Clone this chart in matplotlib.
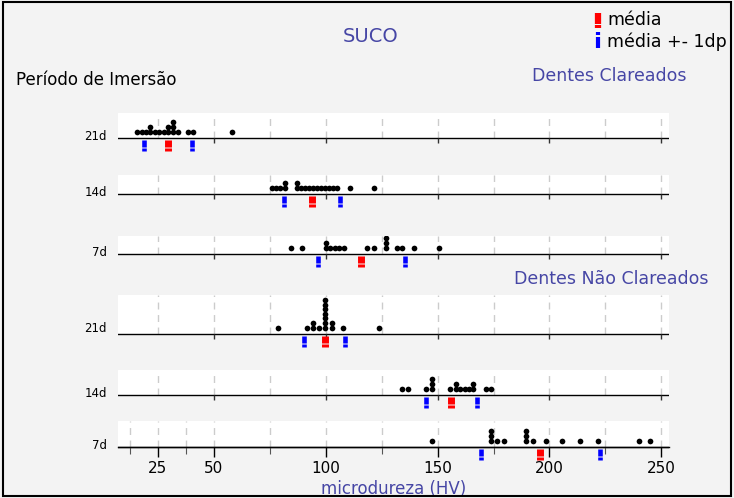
import matplotlib.pyplot as plt
from matplotlib.lines import Line2D
from matplotlib.patches import Rectangle
from collections import Counter

# microdureza (HV)
clar_21d = [15.8, 17.8, 19.6, 21.5, 21.5, 23.8, 25.7, 27.9, 29.7, 29.7, 31.9, 31.9, 31.9,
            33.9, 38.6, 40.6, 58.0]
clar_14d = [76.0, 77.8, 79.7, 81.7, 81.7, 87.1, 87.1, 88.9, 90.8, 92.6, 94.4, 96.2, 98.0,
            99.8, 101.6, 103.3, 105.1, 110.7, 121.4]
clar_7d = [84.3, 89.5, 100.3, 100.3, 102.1, 104.1, 106.1, 108.1, 118.4, 121.5, 126.9, 126.9,
           126.9, 131.8, 134.0, 139.4, 150.5]
nclar_21d = [78.5, 91.5, 94.4, 94.4, 97.0, 99.6, 99.6, 99.6, 99.6, 99.6, 99.6, 99.6,
             102.6, 102.6, 107.8, 123.8]
nclar_14d = [133.9, 136.8, 144.7, 147.3, 147.3, 147.3, 155.4, 158.1, 158.1, 160.2, 162.1,
             164.1, 165.8, 165.8, 171.5, 173.8]
nclar_7d = [147.7, 173.8, 173.8, 173.8, 176.6, 179.7, 189.7, 189.7, 189.7, 192.6, 198.3,
            205.8, 213.8, 221.7, 240.0, 245.0]

series = [clar_21d, clar_14d, clar_7d, nclar_21d, nclar_14d, nclar_7d]
rotulos = ['21d', '14d', '7d', '21d', '14d', '7d']
media = [29.6, 93.7, 115.9, 99.5, 156.0, 195.9]
dp = [10.6, 12.5, 19.5, 9.3, 11.4, 26.6]

W, H = 734, 498
fig = plt.figure(figsize=(W / 100, H / 100), dpi=100, facecolor='#f3f3f3')
azul = '#4646a5'

# (topo da faixa branca, linha de base) em pixels
faixas = [(113, 138), (175, 194), (236, 254), (295, 334), (370, 395), (421, 447)]
x0, x1 = 118, 669
xlim = (7.2, 253.4)
abaixo = 16

for i, vals in enumerate(series):
    top, base = faixas[i]
    h = base - top
    ax = fig.add_axes([x0 / W, 1 - (base + abaixo) / H, (x1 - x0) / W, (h + abaixo) / H])
    ax.set_xlim(*xlim)
    ax.set_ylim(-abaixo, h)
    ax.axis('off')
    ax.axhspan(0, h, color='white', zorder=0)
    grade = [25, 50, 75, 100, 125, 150, 175, 200, 225, 250]
    if i == 5:
        grade = [12.5, 37.5] + grade
    ax.vlines(grade, 0, h, colors='#cccccc', linestyles=(0, (5, 4)), lw=1, zorder=1)
    ax.axhline(0, color='black', lw=1, zorder=2)
    if i < 5:
        ax.vlines([50, 100, 150, 200, 250], -5, 0, colors='#333333', lw=1, zorder=2)
    # pontos empilhados
    cont = Counter()
    xs, ys = [], []
    for v in vals:
        xs.append(v)
        ys.append(6.5 + 4.6 * cont[v])
        cont[v] += 1
    ax.plot(xs, ys, 'o', color='black', ms=4.1, mew=0, zorder=3)
    # média e média +- 1dp
    for x, cor, lw in [(media[i], 'red', 5.0), (media[i] - dp[i], 'blue', 3.3),
                       (media[i] + dp[i], 'blue', 3.3)]:
        ax.plot([x, x], [-1.5, -8.5], color=cor, lw=lw, solid_capstyle='butt', clip_on=False)
        ax.plot([x, x], [-10.0, -13.0], color=cor, lw=lw, solid_capstyle='butt', clip_on=False)
    dy = 6 if i == 3 else 2
    fig.text(107 / W, 1 - (base - dy) / H, rotulos[i], ha='right', va='center', fontsize=8.5)

# eixo x inferior
top, base = faixas[5]
axx = fig.add_axes([x0 / W, 1 - base / H, (x1 - x0) / W, 0.001])
axx.set_xlim(*xlim)
axx.patch.set_visible(False)
for s in ['top', 'left', 'right']:
    axx.spines[s].set_visible(False)
axx.spines['bottom'].set_linewidth(1)
axx.set_yticks([])
axx.set_xticks([25, 50, 100, 150, 200, 250])
axx.set_xticks([12.5, 37.5, 75, 125, 175, 225], minor=True)
axx.tick_params(axis='x', which='major', length=7, width=1, labelsize=11, pad=3)
axx.tick_params(axis='x', which='minor', length=5, width=0.8, color='#555555')
axx.set_xlabel('microdureza (HV)', color=azul, fontsize=12, labelpad=3)

# textos
fig.text(371 / W, 1 - 37 / H, 'SUCO', ha='center', va='center', color=azul, fontsize=14)
fig.text(16 / W, 1 - 80 / H, 'Período de Imersão', ha='left', va='center', fontsize=12)
fig.text(686 / W, 1 - 76 / H, 'Dentes Clareados', ha='right', va='center', color=azul, fontsize=12.5)
fig.text(708 / W, 1 - 279 / H, 'Dentes Não Clareados', ha='right', va='center', color=azul, fontsize=12.5)

# legenda
def marca(xp, y_grande, y_peq, cor, lw):
    for (a, b) in [y_grande, y_peq]:
        fig.add_artist(Line2D([xp / W, xp / W], [1 - a / H, 1 - b / H], color=cor, lw=lw,
                              solid_capstyle='butt'))

marca(598, (13, 24), (25.5, 28), 'red', 4.5)
marca(598, (37, 48), (32, 35), 'blue', 3.0)
fig.text(607 / W, 1 - 20 / H, 'média', ha='left', va='center', fontsize=12.5)
fig.text(607 / W, 1 - 42 / H, 'média +- 1dp', ha='left', va='center', fontsize=12.5)

fig.add_artist(Rectangle((3 / W, 2 / H), 728 / W, 494 / H, transform=fig.transFigure,
                         fill=False, ec='black', lw=1.5))

fig.savefig('out.png', dpi=100, facecolor=fig.get_facecolor())
